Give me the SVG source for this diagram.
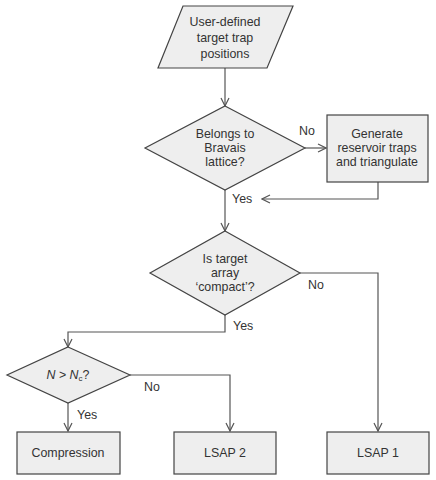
<svg xmlns="http://www.w3.org/2000/svg" width="436" height="480" viewBox="0 0 436 480">
<defs>
<style>
.shape{fill:#eeeeee;stroke:#444;stroke-width:1.2}
.t{font-family:"Liberation Sans",Arial,sans-serif;font-size:12.4px;fill:#333;text-anchor:middle;dominant-baseline:central}
.lbl{font-family:"Liberation Sans",Arial,sans-serif;font-size:12.4px;fill:#333;dominant-baseline:central}
.c{fill:none;stroke:#555;stroke-width:1.2}
</style>
<marker id="arr" viewBox="0 0 10 10" refX="9" refY="5" markerWidth="10" markerHeight="10" markerUnits="userSpaceOnUse" orient="auto">
<path d="M1,1 L9,5 L1,9" fill="none" stroke="#555" stroke-width="1.2"/>
</marker>
</defs>
<rect width="436" height="480" fill="#fff"/>
<g id="connectors">
<path class="c" d="M225,68 V106" marker-end="url(#arr)"/>
<path class="c" d="M305,148 H326" marker-end="url(#arr)"/>
<path class="c" d="M378,182 V199 H262" marker-end="url(#arr)"/>
<path class="c" d="M225,190 V231" marker-end="url(#arr)"/>
<path class="c" d="M300,273 H378 V431" marker-end="url(#arr)"/>
<path class="c" d="M225,315 V332 H68 V347" marker-end="url(#arr)"/>
<path class="c" d="M130,375 H230 V431" marker-end="url(#arr)"/>
<path class="c" d="M68,403 V431" marker-end="url(#arr)"/>
<text class="lbl" x="299" y="131">No</text>
<text class="lbl" x="232" y="199">Yes</text>
<text class="lbl" x="308" y="285">No</text>
<text class="lbl" x="233" y="326">Yes</text>
<text class="lbl" x="144" y="387">No</text>
<text class="lbl" x="77" y="415">Yes</text>
</g>
<g id="input">
<polygon class="shape" points="183,6 293,6 267,68 158,68"/>
<text class="t" x="225" y="22">User-defined</text>
<text class="t" x="225" y="38">target trap</text>
<text class="t" x="225" y="54">positions</text>
</g>
<g id="bravais">
<polygon class="shape" points="225,106 305,148 225,190 145,148"/>
<text class="t" x="225" y="134">Belongs to</text>
<text class="t" x="225" y="148">Bravais</text>
<text class="t" x="225" y="162">lattice?</text>
</g>
<g id="generate">
<rect class="shape" x="327" y="115" width="101" height="67"/>
<text class="t" x="377" y="134">Generate</text>
<text class="t" x="377" y="148">reservoir traps</text>
<text class="t" x="377" y="162">and triangulate</text>
</g>
<g id="compact">
<polygon class="shape" points="225,231 300,273 225,315 150,273"/>
<text class="t" x="225" y="259">Is target</text>
<text class="t" x="225" y="273">array</text>
<text class="t" x="225" y="287">‘compact’?</text>
</g>
<g id="nc">
<polygon class="shape" points="68,347 130,375 68,403 7,375"/>
<text class="t" x="68" y="375"><tspan font-style="italic">N</tspan> &gt; <tspan font-style="italic">N</tspan><tspan font-size="8" dy="3">c</tspan><tspan dy="-3">?</tspan></text>
</g>
<g id="compression">
<rect class="shape" x="17" y="432" width="103" height="42"/>
<text class="t" x="68" y="453">Compression</text>
</g>
<g id="lsap2">
<rect class="shape" x="174" y="432" width="102" height="42"/>
<text class="t" x="225" y="453">LSAP 2</text>
</g>
<g id="lsap1">
<rect class="shape" x="327" y="432" width="102" height="42"/>
<text class="t" x="378" y="453">LSAP 1</text>
</g>
</svg>
